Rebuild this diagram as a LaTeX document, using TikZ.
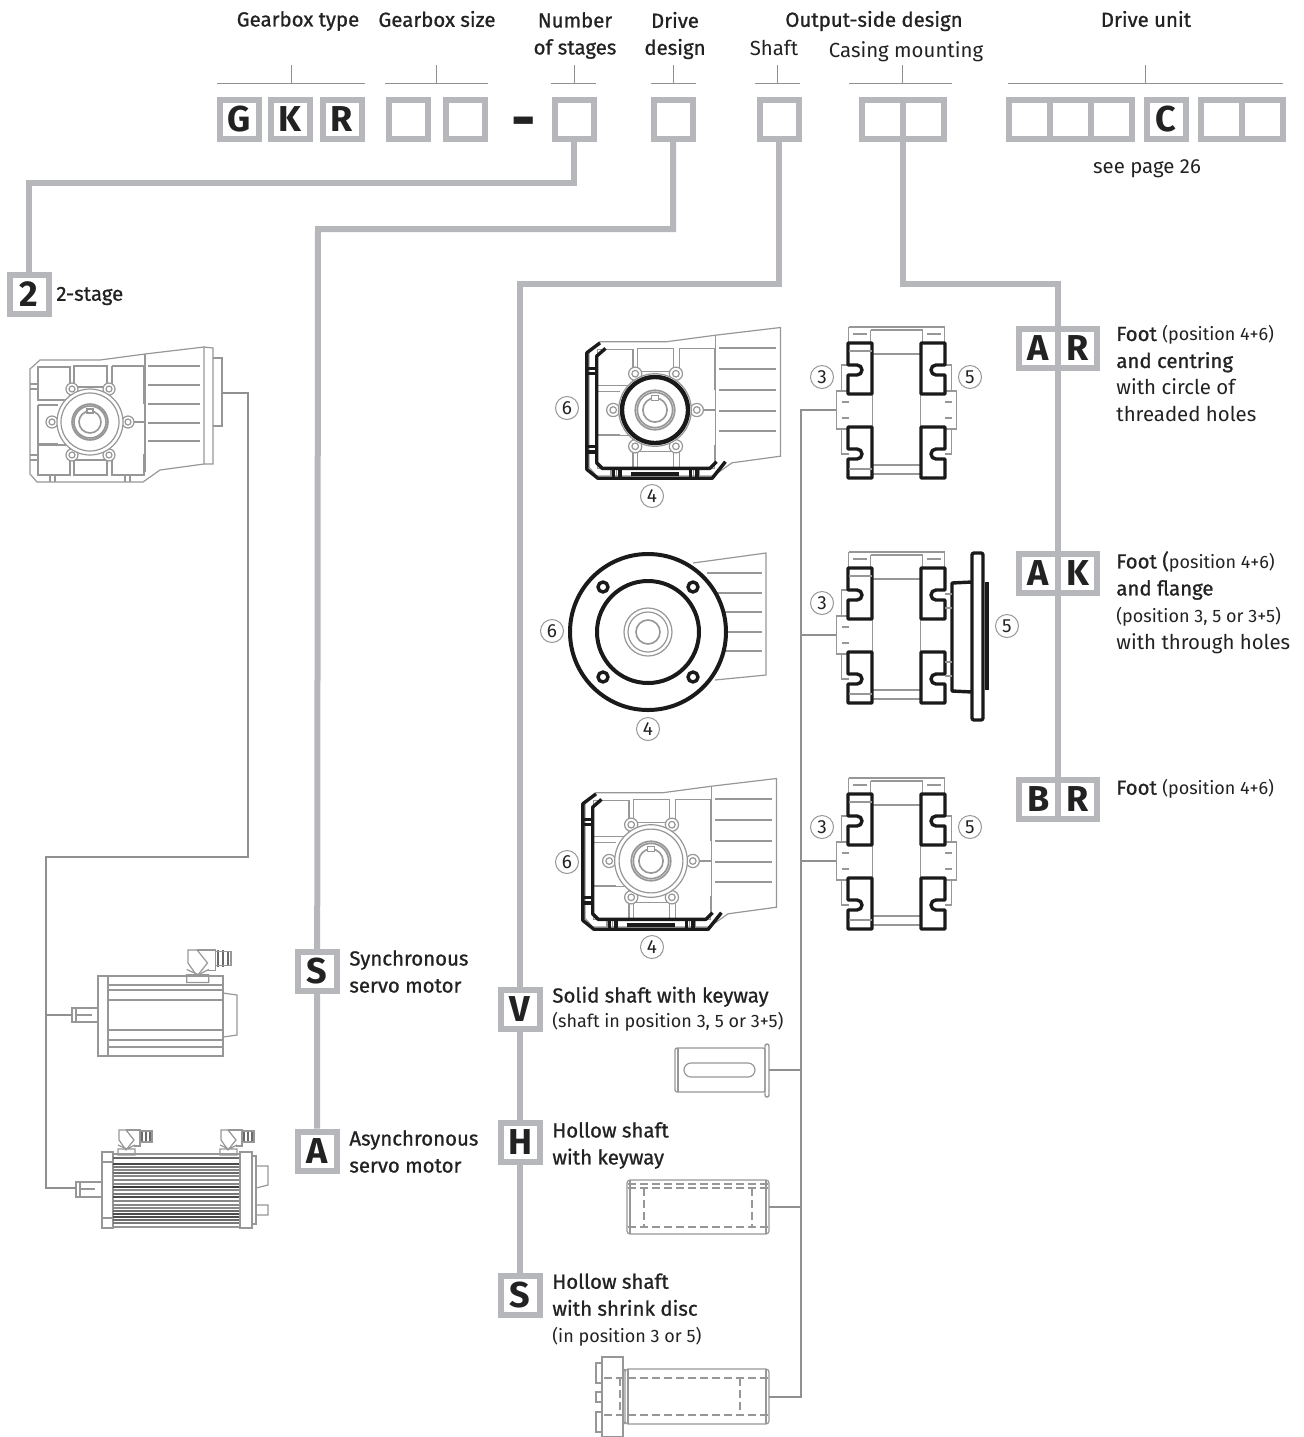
\documentclass[tikz,border=0pt]{standalone}
\usepackage{fontspec}
\usepackage{xcolor}
\usepackage{tikz}
\usetikzlibrary{positioning,backgrounds}
\setmainfont{Fira Sans}
\newfontfamily\medfont{Fira Sans}[FakeBold=0.9]
\definecolor{boxgray}{HTML}{B5B7BA}
\definecolor{linegray}{HTML}{8E9092}
\definecolor{partgray}{HTML}{979797}
\definecolor{inkblack}{HTML}{222222}
\definecolor{edgeblack}{HTML}{1A1A1A}
\newcommand{\med}[1]{{\medfont #1}}
\begin{document}
\begin{tikzpicture}[
    x=0.5pt, y=-0.5pt,
    every node/.style={text=inkblack, font=\fontsize{10.2}{13.5}\selectfont},
    codebox/.style={draw=boxgray, line width=3pt, fill=white, minimum size=19.5pt, inner sep=0pt, font=\fontsize{18}{18}\bfseries\selectfont},
    codewide/.style={codebox, minimum width=20.5pt},
    link/.style={draw=boxgray, line width=3pt, line join=miter},
    lead/.style={draw=linegray, line width=0.7pt},
    bracket/.style={draw=linegray, line width=0.5pt},
    part/.style={draw=partgray, line width=0.6pt},
    fin/.style={draw=partgray, line width=1pt},
    heavy/.style={draw=edgeblack, line width=1.7pt, line join=round},
    hidden/.style={draw=partgray, line width=0.7pt, dash pattern=on 4pt off 2pt},
    posn/.style={circle, draw=partgray, line width=0.5pt, inner sep=0pt, minimum size=11.5pt, font=\fontsize{9.5}{10}\selectfont},
    heading/.style={align=center, inner sep=0pt},
    item/.style={anchor=west, align=left, inner sep=0pt},
    gearbody/.pic={
        \draw[part] (-60,-53) -- (-50,-62) -- (10,-62) -- (55,-68) -- (114,-75) -- (114,42) -- (70,48) -- (53,60) -- (-53,60) -- (-60,52) -- cycle;
        \draw[part] (-52,-55) rectangle (-20,-22) (-16,-56) rectangle (17,-35) (22,-56) -- (54,-56) -- (54,-18) (22,-56) -- (22,-35);
        \draw[part] (-52,-17) -- (-32,-17) (-52,-17) -- (-52,22) -- (-32,22) (-52,23) rectangle (-20,53);
        \draw[part] (-16,38) rectangle (17,53) (22,38) -- (22,53) -- (54,53) -- (54,32);
        \draw[part] (55,-68) -- (55,50) (38,0) -- (55,0);
        \draw[part] (-60,-38) -- (-52,-38) (-60,-33) -- (-52,-33) (-60,33) -- (-52,33) (-60,38) -- (-52,38);
        \draw[part] (-40,53) -- (-40,60) (-35,53) -- (-35,60) (35,53) -- (35,60) (40,53) -- (40,60);
        \foreach \yfin in {-56,-37,-18,1,19} {
            \draw[fin] (58,\yfin) -- (110,\yfin);
        }
    },
    gearhub/.pic={
        \foreach \xlug/\ylug in {-18/-33,19/-33,-38/0,38/0,-18/33,19/33} {
            \draw[part, fill=white] (\xlug,\ylug) circle (6);
            \draw[part] (\xlug,\ylug) circle (3);
        }
        \draw[part, fill=white] (0,0) circle (33);
        \draw[part] (0,0) circle (29);
        \draw[part, line width=0.8pt] (0,0) circle (18) (0,0) circle (16);
        \draw[part, line width=0.8pt, fill=white] (0,0) circle (11);
        \draw[part, fill=white] (-3,-13) rectangle (3,-9);
    },
    gearedge/.pic={
        \draw[heavy] (-50,-61) -- (-62,-52) -- (-62,54) -- (-52,62) -- (52,62) -- (64,47);
        \draw[heavy] (-45,-56) -- (-53,-49) -- (-53,48) -- (-48,53) -- (50,53) -- (56,47);
        \draw[heavy] (-62,-38) -- (-53,-38) (-62,-33) -- (-53,-33) (-62,33) -- (-53,33) (-62,38) -- (-53,38);
        \draw[heavy] (-38,53) -- (-38,62) (-32,53) -- (-32,62) (32,53) -- (32,62) (38,53) -- (38,62);
        \draw[heavy] (-22,58) -- (22,58);
    },
    block/.pic={
        \draw[heavy, fill=white] (0,0) -- (24,0) -- (24,51) -- (0,51) -- (0,32) -- (9,32) arc (90:-90:5) -- (0,22) -- cycle;
    },
    sideleft/.pic={
        \draw[part] (-48,-83) -- (48,-83) (-48,-83) -- (-48,-67) (48,-83) -- (48,-67);
        \draw[part] (-26,-80) -- (26,-80) (-26,-80) -- (-26,-67) (26,-80) -- (26,-67);
        \draw[part] (-44,-76) -- (-30,-76) (44,-76) -- (30,-76);
        \draw[part] (-24,-56) -- (24,-56) (-24,55) -- (24,55) (-24,64) -- (24,64);
        \draw[part] (-24,-16) -- (-24,16) (24,-16) -- (24,16);
        \draw[part] (-48,-45) -- (-55,-45) -- (-55,-19) -- (-60,-19) -- (-60,19) -- (-55,19) -- (-55,44) -- (-48,44);
        \draw[part] (-55,-19) -- (-48,-19) (-55,19) -- (-48,19) (-55,-8) -- (-48,-8) (-55,8) -- (-48,8);
        \pic at (-48.5,-67) {block};
        \pic at (-48.5,17) {block};
        \draw[part] (-48,-59) -- (-25,-59) (-48,59) -- (-25,59);
        \draw[part] (25,-59) -- (48,-59) (25,59) -- (48,59);
    },
    sideright/.pic={
        \draw[part] (48,-45) -- (55,-45) -- (55,-19) -- (60,-19) -- (60,19) -- (55,19) -- (55,44) -- (48,44);
        \draw[part] (55,-19) -- (48,-19) (55,19) -- (48,19) (55,-8) -- (48,-8) (55,8) -- (48,8);
    },
    sideblocks/.pic={
        \pic[xscale=-1] at (48.5,-67) {block};
        \pic[xscale=-1] at (48.5,17) {block};
    },
    plug/.pic={
        \draw[part, fill=white] (0,0) -- (7,0) -- (15,10) -- (7,20) -- (0,10) -- cycle;
        \draw[part] (7,0) -- (21,0) -- (21,16) -- (15,16);
        \draw[part] (-1,15) -- (8,19) -- (16,15) (-1,19) -- (16,19) -- (16,25) -- (-1,25) -- cycle;
        \draw[draw=partgray!70!black, line width=0.9pt] (23,0) -- (23,13) (27,0) -- (27,13) (31,1) -- (31,12);
        \draw[part] (21,1) -- (33,1) -- (33,12) -- (21,12);
    }
]
\useasboundingbox (0,0) rectangle (1304,1437);
% code row
\node[codebox] (gtype) at (239,119) {G};
\node[codebox] (ktype) at (290,119) {K};
\node[codebox] (rtype) at (342,119) {R};
\node[codebox] (size1) at (408,119) {};
\node[codebox] (size2) at (465,119) {};
\node[font=\fontsize{30}{30}\bfseries\selectfont, inner sep=0pt] (dash) at (524,128) {-};
\node[codebox] (stages) at (574,119) {};
\node[codebox] (drive) at (673,119) {};
\node[codebox] (shaft) at (779,119) {};
\node[codewide] (case1) at (882,119) {};
\node[codewide] (case2) at (923,119) {};
\node[codewide] (unit1) at (1029,119) {};
\node[codewide] (unit2) at (1070,119) {};
\node[codewide] (unit3) at (1111,119) {};
\node[codebox] (unitc) at (1166,119) {C};
\node[codewide] (unit4) at (1221,119) {};
\node[codewide] (unit5) at (1262,119) {};

% headings
\node[heading] (hgtype) at (298,21) {\med{Gearbox type}};
\node[heading] (hgsize) at (437,19) {\med{Gearbox size}};
\node[heading] (hstages) at (575,35.5) {\med{Number}\\\med{of stages}};
\node[heading] (hdrive) at (675,35.5) {\med{Drive}\\\med{design}};
\node[heading] (houtput) at (874,21) {\med{Output-side design}};
\node[heading] (hshaft) at (774,48) {Shaft};
\node[heading] (hcasing) at (906,52) {Casing mounting};
\node[heading] (hunit) at (1146,19) {\med{Drive unit}};
\node[heading] (seepage) at (1147,169) {see page 26};

% brackets
\foreach \xa/\xb/\xt in {217/365/291,385/488/436,551/596/574,651/696/673,755/800/777,849/952/902,1008/1283/1145} {
    \draw[bracket] (\xa,83) -- (\xb,83) (\xt,65) -- (\xt,83);
}

% option codes
\node[codebox] (two) at (29,294) {2};
\node[codebox] (synch) at (317,971) {S};
\node[codebox] (asynch) at (317,1151) {A};
\node[codebox] (solid) at (520,1009) {V};
\node[codebox] (hollow) at (520,1142) {H};
\node[codebox] (shrink) at (520,1295) {S};
\node[codebox] (fa1) at (1038.5,348) {A};
\node[codebox] (fa2) at (1077.5,348) {R};
\node[codebox] (fb1) at (1038.5,573) {A};
\node[codebox] (fb2) at (1077.5,573) {K};
\node[codebox] (fc1) at (1038.5,799) {B};
\node[codebox] (fc2) at (1077.5,799) {R};

% elbows
\coordinate (e1) at (29,183);
\coordinate (e2) at (318,229);
\coordinate (e3) at (520,284);
\coordinate (e4) at (1058,284);
\coordinate (e5) at (903,141);
\coordinate (e6) at (1058,799);
\coordinate (e7) at (520,1273);

\begin{scope}[on background layer]
\draw[link] (stages.south) |- (e1) -- (two.north);
\draw[link] (drive.south) |- (e2) -- (asynch.north);
\draw[link] (shaft.south) |- (e3) -- (e7);
\draw[link] (e5) |- (e4) -- (e6);
\end{scope}

% option texts
\node[item] (t2) at (56,296) {\med{2-stage}};
\node[item] (tsynch) at (349,971.5) {\med{Synchronous}\\\med{servo motor}};
\node[item] (tasynch) at (349,1151.5) {\med{Asynchronous}\\\med{servo motor}};
\node[item] (tsolid) at (552,1009) {\med{Solid shaft with keyway}\\[-1pt]{\fontsize{9}{13}\selectfont (shaft in position 3, 5 or 3+5)}};
\node[item] (thollow) at (552,1145.5) {\med{Hollow shaft}\\\med{with keyway}};
\node[item] (tshrink) at (552,1310) {\med{Hollow shaft}\\\med{with shrink disc}\\{\fontsize{9}{13}\selectfont (in position 3 or 5)}};
\node[item] (tfa) at (1116,374) {\med{Foot} {\fontsize{9}{13}\selectfont (position 4+6)}\\\med{and centring}\\with circle of\\threaded holes};
\node[item] (tfb) at (1116,602.5) {\med{Foot (}{\fontsize{9}{13}\selectfont position 4+6)}\\\med{and flange}\\{\fontsize{9}{13}\selectfont (position 3, 5 or 3+5)}\\with through holes};
\node[item] (tfc) at (1116,789) {\med{Foot} {\fontsize{9}{13}\selectfont (position 4+6)}};

% 2-stage gearbox
\pic at (90,422) {gearbody};
\pic at (90,422) {gearhub};
\draw[part] (204,347) -- (213,348) -- (213,464) -- (204,464);
\draw[part] (213,358) -- (222,358) -- (222,426) -- (213,426);
\coordinate (gearport) at (222,393);
\coordinate (turn1) at (248,393);
\coordinate (turn2) at (248,857);
\coordinate (turn3) at (46,857);
\coordinate (motorbus) at (46,1015);

% front views
\pic[scale=1.1] at (655,410) {gearbody};
\pic[scale=1.1] at (655,410) {gearhub};
\pic[scale=1.1] at (655,410) {gearedge};
\draw[heavy, line width=2.2pt] (655,410) circle (33);
\pic[scale=1.1] at (651,861) {gearbody};
\pic[scale=1.1] at (651,861) {gearhub};
\pic[scale=1.1] at (651,861) {gearedge};

% round flange view
\draw[part] (693,563) -- (766,553) -- (766,675) -- (715,680);
\foreach \yfin in {573,593,612,632,651} {
    \draw[fin] (707,\yfin) -- (762,\yfin);
}
\draw[heavy, line width=2pt, fill=white] (648,632) circle (78);
\draw[heavy, line width=2pt] (648,632) circle (51);
\draw[part] (648,632) circle (24) (648,632) circle (20);
\draw[part, line width=0.8pt] (648,632) circle (12);
\foreach \xbolt/\ybolt in {-45/-45,45/-45,-45/45,45/45} {
    \draw[heavy] (648+\xbolt,632+\ybolt) circle (5);
}

% side views
\pic at (896.5,410) {sideleft};
\pic at (896.5,410) {sideright};
\pic at (896.5,410) {sideblocks};
\pic at (896.5,635) {sideleft};
\pic at (896.5,635) {sideblocks};
\pic at (896.5,861) {sideleft};
\pic at (896.5,861) {sideright};
\pic at (896.5,861) {sideblocks};

% flange plate
\draw[heavy, rounded corners=1pt] (972,553) rectangle (983,720);
\draw[heavy] (972,582) -- (952,583) -- (952,691) -- (972,692);
\draw[heavy, line width=2pt] (987,582) -- (987,690);
\foreach \yrib in {594,608,662,676} {
    \draw[part] (945,\yrib) -- (952,\yrib);
}

% position numbers
\node[posn] (p6a) at (567,408) {6};
\node[posn] (p4a) at (652,496) {4};
\node[posn] (p3a) at (822,377) {3};
\node[posn] (p5a) at (970,377) {5};
\node[posn] (p6b) at (552,631) {6};
\node[posn] (p4b) at (648,729) {4};
\node[posn] (p3b) at (822,603) {3};
\node[posn] (p5b) at (1007,626) {5};
\node[posn] (p6c) at (567,862) {6};
\node[posn] (p4c) at (652,947) {4};
\node[posn] (p3c) at (822,827) {3};
\node[posn] (p5c) at (970,827) {5};

% synchronous motor
\draw[part] (98,976) rectangle (108,1056);
\draw[part] (108,976) rectangle (223,1056);
\foreach \yline in {985,990,1000,1030,1040,1047} {
    \draw[part] (108,\yline) -- (223,\yline);
}
\draw[part] (223,993) -- (237,995) -- (237,1035) -- (223,1037);
\draw[part] (98,1008) -- (72,1008) -- (72,1022) -- (98,1022);
\draw[part] (76,1008) -- (76,1022) (76,1015) -- (92,1015);
\pic[scale=1.3] at (188,950) {plug};
\coordinate (portsynch) at (72,1015);

% asynchronous motor
\draw[part] (102,1152) rectangle (113,1228);
\draw[part] (102,1162) -- (113,1162) (102,1218) -- (113,1218);
\draw[part] (113,1154) rectangle (240,1227);
\foreach \yrib/\wrib/\grib in {1158/1/30,1164/1.2/50,1167/0.8/20,1170/1/10,1173/1/30,1176/1/10,1180/0.6/10,1184/0.9/10,1187/1.2/60,1190/0.8/10,1194/0.8/20,1197/1/50,1201/0.6/10,1205/1.2/10,1208/1.2/10,1211/1.2/30,1214/1/50,1217/1/50,1220/1/30,1223/0.8/20} {
    \draw[draw=black!\grib!partgray, line width=\wrib pt] (113,\yrib) -- (240,\yrib);
}
\draw[part] (240,1152) rectangle (252,1228);
\draw[part] (252,1156) -- (256,1156) -- (256,1224) -- (252,1224);
\draw[part] (256,1166) -- (268,1166) -- (268,1185) -- (256,1188) (256,1205) -- (268,1205) -- (268,1215) -- (256,1215);
\draw[part] (102,1182) -- (76,1182) -- (76,1197) -- (102,1197);
\draw[part] (80,1182) -- (80,1197) (80,1189) -- (95,1189);
\pic at (119,1130) {plug};
\pic at (221,1130) {plug};
\coordinate (portasynch) at (76,1188);
\coordinate (turn4) at (46,1188);

% solid shaft
\draw[part, rounded corners=1pt] (675,1048) rectangle (765,1092);
\draw[part] (678,1048) -- (678,1092);
\draw[part, line width=0.7pt, rounded corners=1pt] (765,1044) rectangle (769,1097);
\draw[part, rounded corners=3.5pt] (684,1063) rectangle (755,1077);
\coordinate (portsolid) at (769,1070);

% hollow shaft with keyway
\draw[part, rounded corners=1.5pt] (627,1180) rectangle (769,1234);
\draw[part] (630,1180) -- (630,1234) (766,1180) -- (766,1234);
\draw[hidden] (628,1184) -- (768,1184) (628,1188) -- (768,1188) (628,1227) -- (768,1227);
\draw[hidden] (644,1188) -- (644,1227) (752,1188) -- (752,1227);
\coordinate (porthollow) at (769,1207);

% hollow shaft with shrink disc
\draw[part, rounded corners=1.5pt] (625,1369) rectangle (769,1424);
\draw[part] (628,1369) -- (628,1424) (766,1369) -- (766,1424);
\draw[part] (602,1357) rectangle (623,1437);
\draw[part] (623,1373) -- (625,1369) (623,1420) -- (625,1424);
\draw[part] (596,1363) rectangle (602,1383) (596,1392) rectangle (602,1402) (596,1412) rectangle (602,1432);
\draw[hidden] (604,1378) -- (768,1378) (604,1415) -- (768,1415);
\draw[hidden] (740,1378) -- (740,1415) (620,1378) -- (620,1415);
\coordinate (portshrink) at (769,1397);

% thin leads
\coordinate (bustop) at (801,410);
\coordinate (side1) at (836,410);
\coordinate (side2) at (836,635);
\coordinate (side3) at (836,861);
\coordinate (bus2) at (801,635);
\coordinate (bus3) at (801,861);
\coordinate (bus4) at (801,1070);
\coordinate (bus5) at (801,1207);
\coordinate (busend) at (801,1397);
\draw[lead] (gearport) -- (turn1) -- (turn2) -- (turn3) -- (turn4) -- (portasynch);
\draw[lead] (motorbus) -- (portsynch);
\draw[lead] (side1) -- (bustop) -- (busend) -- (portshrink);
\draw[lead] (bus2) -- (side2);
\draw[lead] (bus3) -- (side3);
\draw[lead] (bus4) -- (portsolid);
\draw[lead] (bus5) -- (porthollow);
\end{tikzpicture}
\end{document}
